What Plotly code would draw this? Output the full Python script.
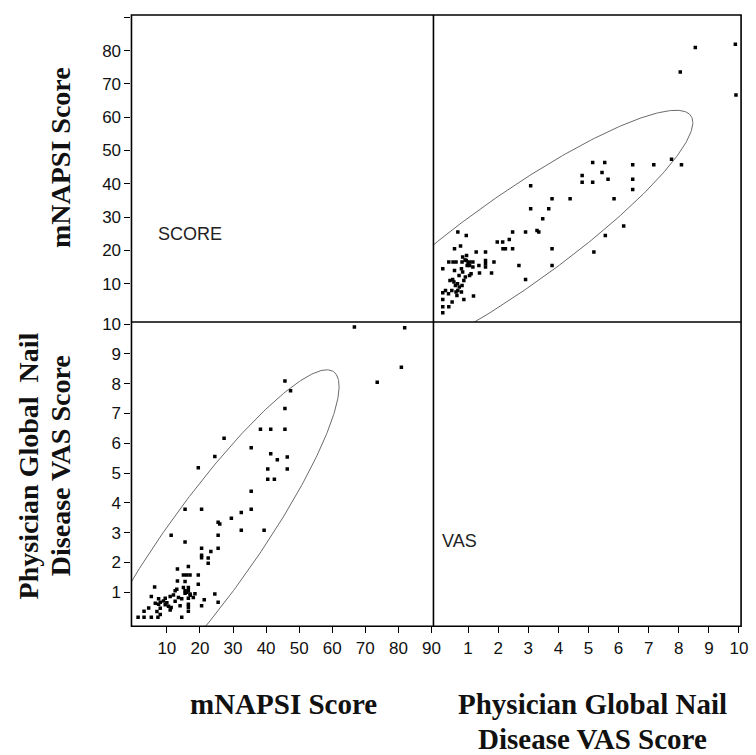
import numpy as np
import plotly.graph_objects as go

# Data: (mNAPSI score, Physician Global Nail Disease VAS score) per patient
mnapsi = [66.7, 81.9, 80.9, 73.6, 45.7, 47.4, 45.7, 45.7, 41.4, 38.3, 27.3, 24.5, 19.5, 35.5,
          41.4, 43.4, 46.4, 46.4, 40.5, 40.5, 42.5, 35.5, 15.5, 20.5, 35.5, 32.5, 29.5, 25.5,
          26.0, 11.3, 25.5, 32.5, 39.4, 15.5, 25.5, 20.5, 23.3, 20.5, 20.5, 22.5, 22.5, 16.5,
          13.2, 15.0, 16.0, 17.0, 19.5, 13.2, 15.5, 19.5, 6.3, 15.0, 16.5, 16.5, 12.5, 15.5,
          17.0, 24.5, 5.3, 11.0, 13.5, 14.5, 7.5, 9.0, 16.5, 18.0, 21.3, 7.5, 9.5, 10.5, 11.3,
          16.5, 16.5, 20.5, 25.5, 4.5, 3.1, 16.5, 8.0, 1.3, 3.1, 5.3, 7.3, 14.5,
          17.1, 12.0, 8.0, 8.0, 10.0, 6.5, 15.5, 14.0, 12.5, 18.5, 9.5, 16.0, 13.0, 11.0, 7.0]
vas = [9.90, 9.88, 8.55, 8.05, 8.09, 7.76, 7.17, 6.47, 6.47, 6.47, 6.17, 5.56, 5.18, 5.85,
       5.65, 5.45, 5.54, 5.14, 5.14, 4.79, 4.79, 4.39, 3.79, 3.79, 3.79, 3.68, 3.48, 3.35,
       3.29, 2.91, 2.91, 3.08, 3.08, 2.69, 2.48, 2.48, 2.37, 2.24, 2.16, 2.15, 1.97, 1.86,
       1.78, 1.58, 1.58, 1.58, 1.58, 1.38, 1.36, 1.27, 1.18, 1.16, 1.16, 1.05, 1.05, 0.97,
       0.94, 0.94, 0.86, 0.86, 0.82, 0.78, 0.78, 0.71, 0.80, 0.82, 0.75, 0.60, 0.58, 0.53, 0.49,
       0.60, 0.50, 0.55, 0.66, 0.47, 0.36, 0.36, 0.25, 0.16, 0.16, 0.16, 0.16, 0.16,
       0.90, 0.91, 0.46, 0.66, 0.65, 0.63, 1.05, 0.55, 0.70, 0.95, 0.80, 1.00, 1.10, 0.40, 0.35]

score_ticks = [10, 20, 30, 40, 50, 60, 70, 80, 90]
score_y_labels = ["10", "20", "30", "40", "50", "60", "70", "80", ""]
score_x_labels = ["10", "20", "30", "40", "50", "60", "70", "80", "90"]
vas_ticks = [1, 2, 3, 4, 5, 6, 7, 8, 9, 10]
vas_labels = [str(v) for v in vas_ticks]

# 95% bivariate normal density ellipse computed from the data
data = np.column_stack([mnapsi, vas])
mu = data.mean(axis=0)
cov = np.cov(data, rowvar=False)
chi2_95 = -2 * np.log(0.05)
evals, evecs = np.linalg.eigh(cov)
t = np.linspace(0, 2 * np.pi, 400)
circle = np.vstack([np.cos(t), np.sin(t)])
ell = (evecs @ np.diag(np.sqrt(evals * chi2_95)) @ circle).T + mu
ell_m, ell_v = ell[:, 0], ell[:, 1]

W, H = 756, 755
L, R, T, B, MX, MY = 132.7, 748.0, 8.0, 625.0, 437.5, 318.0
px = lambda x: x / W
py = lambda y: 1 - y / H

fig = go.Figure()
mk = dict(symbol="square", size=3.5, color="black", line=dict(width=0))
ln = dict(color="#6a6a6a", width=1)
# bottom-left: x = mNAPSI, y = VAS
fig.add_trace(go.Scatter(x=mnapsi, y=vas, mode="markers", marker=mk, xaxis="x", yaxis="y"))
fig.add_trace(go.Scatter(x=ell_m, y=ell_v, mode="lines", line=ln, xaxis="x", yaxis="y"))
# top-right: x = VAS, y = mNAPSI
fig.add_trace(go.Scatter(x=vas, y=mnapsi, mode="markers", marker=mk, xaxis="x2", yaxis="y2"))
fig.add_trace(go.Scatter(x=ell_v, y=ell_m, mode="lines", line=ln, xaxis="x2", yaxis="y2"))

tickfont = dict(family="Liberation Sans, Arial, sans-serif", size=17, color="#111")
common = dict(showgrid=False, zeroline=False, ticks="outside", ticklen=6, tickwidth=1,
              tickcolor="black", tickfont=tickfont, showline=False, fixedrange=True)

fig.update_layout(
    width=W, height=H, margin=dict(l=0, r=0, t=0, b=0),
    paper_bgcolor="white", plot_bgcolor="white", showlegend=False,
    xaxis=dict(domain=[px(L), px(MX)], anchor="y", range=[-0.7, 90.6],
               tickvals=score_ticks, ticktext=score_x_labels, **common),
    xaxis2=dict(domain=[px(MX), px(R)], anchor="y", range=[-0.15, 10.07],
                tickvals=vas_ticks, ticktext=vas_labels, **common),
    yaxis=dict(domain=[py(B), py(MY)], anchor="x", range=[-0.14, 10.07],
               tickvals=vas_ticks, ticktext=vas_labels, **common),
    yaxis2=dict(domain=[py(MY), py(T)], anchor="x", range=[-1.5, 90.7],
                tickvals=score_ticks, ticktext=score_y_labels, **common),
)

frame = dict(color="black", width=1.6)
fig.add_shape(type="rect", xref="paper", yref="paper", x0=px(L), x1=px(R), y0=py(B), y1=py(T), line=frame)
fig.add_shape(type="line", xref="paper", yref="paper", x0=px(MX), x1=px(MX), y0=py(B), y1=py(T), line=frame)
fig.add_shape(type="line", xref="paper", yref="paper", x0=px(L), x1=px(R), y0=py(MY), y1=py(MY), line=frame)

lab = dict(family="Liberation Sans, Arial, sans-serif", size=18, color="#222")
fig.add_annotation(text="SCORE", xref="paper", yref="paper", x=px(157), y=py(229),
                   xanchor="left", yanchor="middle", showarrow=False, font=lab)
fig.add_annotation(text="VAS", xref="paper", yref="paper", x=px(444), y=py(539),
                   xanchor="left", yanchor="middle", showarrow=False, font=lab)

vfont = dict(family="Liberation Serif, Times New Roman, serif", size=28, color="#111")
hfont = dict(family="Liberation Serif, Times New Roman, serif", size=29, color="#111")
fig.add_annotation(text="<b>mNAPSI Score</b>", xref="paper", yref="paper", x=px(61), y=py(152),
                   textangle=-90, showarrow=False, font=vfont, xanchor="center", yanchor="middle")
fig.add_annotation(text="<b>Physician Global\u00a0 Nail</b>", xref="paper", yref="paper",
                   x=px(29), y=py(463), textangle=-90, showarrow=False, font=vfont,
                   xanchor="center", yanchor="middle")
fig.add_annotation(text="<b>Disease VAS Score</b>", xref="paper", yref="paper",
                   x=px(61), y=py(463), textangle=-90, showarrow=False, font=vfont,
                   xanchor="center", yanchor="middle")
fig.add_annotation(text="<b>mNAPSI Score</b>", xref="paper", yref="paper", x=px(286), y=py(704),
                   showarrow=False, font=hfont, xanchor="center", yanchor="middle")
fig.add_annotation(text="<b>Physician Global Nail</b>", xref="paper", yref="paper",
                   x=px(598), y=py(704), showarrow=False, font=hfont, xanchor="center", yanchor="middle")
fig.add_annotation(text="<b>Disease VAS Score</b>", xref="paper", yref="paper",
                   x=px(598), y=py(739), showarrow=False, font=hfont, xanchor="center", yanchor="middle")

fig.write_html("out.html")
